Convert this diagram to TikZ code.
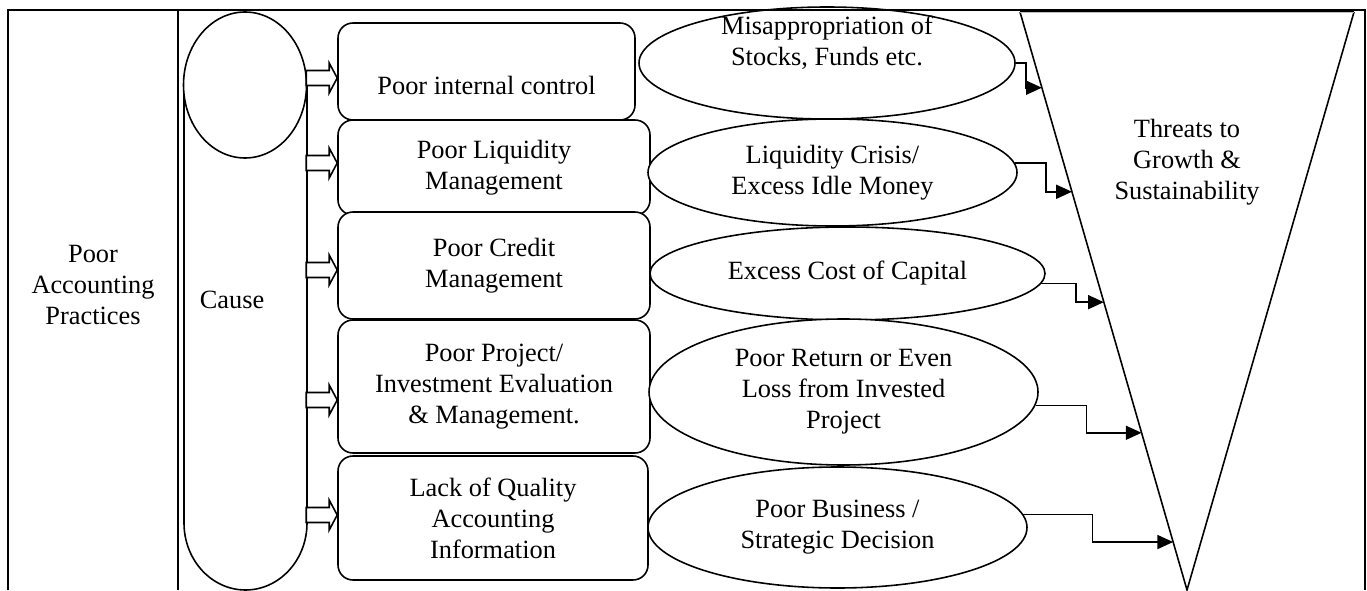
\documentclass[tikz,border=0pt]{standalone}
\usepackage{fontspec}
\setmainfont{Liberation Serif}
\usetikzlibrary{shapes.geometric,arrows.meta,calc}

\tikzset{
  txt/.style={font=\fontsize{15}{17.6}\selectfont, align=center},
  causebox/.style={txt, draw, fill=white, rounded corners=0.3cm, line width=0.9pt, inner sep=0pt},
  effect/.style={txt, ellipse, draw, fill=white, line width=0.9pt, inner sep=0pt},
  hollow/.style={draw, fill=white, line width=0.9pt, line join=miter},
  flow/.style={line width=0.9pt, -{Triangle[length=9pt,width=8pt]}},
}

\begin{document}
\begin{tikzpicture}
\useasboundingbox (0,0) rectangle (27.34,11.8);

\node[txt] (practice) at (1.86,6.1) {Poor\\Accounting\\Practices};

\draw[line width=0.9pt] (3.68,10.1) -- (3.68,1.34) arc[start angle=180, end angle=360, x radius=1.23, y radius=1.34] -- (6.14,10.1);
\node[ellipse, draw, fill=white, line width=0.9pt, minimum width=2.46cm, minimum height=2.92cm] (cause) at (4.9,10.1) {};
\node[txt] (causetext) at (4.64,5.8) {Cause};

\node[causebox, minimum width=5.94cm, minimum height=1.94cm] (c1) at (9.73,10.37) {};
\node[txt] (c1text) at (9.73,10.1) {Poor internal control};
\node[causebox, minimum width=6.24cm, minimum height=1.9cm] (c2) at (9.88,8.45) {Poor Liquidity\\Management};
\node[causebox, minimum width=6.24cm, minimum height=2.14cm] (c3) at (9.88,6.49) {Poor Credit\\Management};
\node[causebox, minimum width=6.24cm, minimum height=2.66cm] (c4) at (9.88,4.07) {Poor Project/\\Investment Evaluation\\\& Management.};
\node[causebox, minimum width=6.2cm, minimum height=2.48cm] (c5) at (9.86,1.44) {Lack of Quality\\Accounting\\Information};

\foreach \b/\dy in {c1/-0.13, c2/0.09, c3/-0.09, c4/-0.27, c5/0.06}
  \draw[hollow] ([yshift=\dy cm]\b.west) -- ++(-0.16,0.3) -- ++(0,-0.15) -- ++(-0.46,0) -- ++(0,-0.3) -- ++(0.46,0) -- ++(0,-0.15) -- cycle;

\node[effect, minimum width=7.52cm, minimum height=2.24cm] (e1) at (16.54,10.54) {};
\node[txt] (e1text) at (16.54,10.94) {Misappropriation of\\Stocks, Funds etc.};
\node[effect, minimum width=7.38cm, minimum height=2.14cm] (e2) at (16.65,8.35) {Liquidity Crisis/\\Excess Idle Money};
\node[effect, minimum width=7.9cm, minimum height=1.86cm] (e3) at (16.95,6.33) {Excess Cost of Capital};
\node[effect, minimum width=7.78cm, minimum height=2.92cm] (e4) at (16.87,3.96) {Poor Return or Even\\Loss from Invested\\Project};
\node[effect, minimum width=7.58cm, minimum height=2.42cm] (e5) at (16.75,1.25) {Poor Business /\\Strategic Decision};

\coordinate (tl) at (20.4,11.56);
\coordinate (tr) at (27.08,11.56);
\coordinate (tb) at (23.74,0);
\draw[line width=0.9pt] (tl) -- (tb) -- (tr);
\draw[line width=0.6pt, double=gray!50, double distance=0.5pt] (tl) -- (tr);
\node[txt] (threat) at (23.74,8.56) {Threats to\\Growth \&\\Sustainability};

\coordinate (t1) at ($(tl)!0.131!(tb)$);
\coordinate (t2) at ($(tl)!0.311!(tb)$);
\coordinate (t3) at ($(tl)!0.502!(tb)$);
\coordinate (t4) at ($(tl)!0.728!(tb)$);
\coordinate (t5) at ($(tl)!0.917!(tb)$);
\draw[flow] (e1.east) -- ++(0.2,0) |- (t1);
\draw[flow] (e2.3) -- ++(0.62,0) |- (t2);
\draw[flow] (e3.-3) -- ++(0.7,0) |- (t3);
\draw[flow] (e4.-4) -- ++(1.02,0) |- (t4);
\draw[flow] (e5.4) -- ++(1.38,0) |- (t5);

\draw[line width=1.4pt] (0.16,0) -- (0.16,11.6) -- (27.3,11.6) -- (27.3,0);
\draw[line width=1.4pt] (3.56,0) -- (3.56,11.6);
\end{tikzpicture}
\end{document}
